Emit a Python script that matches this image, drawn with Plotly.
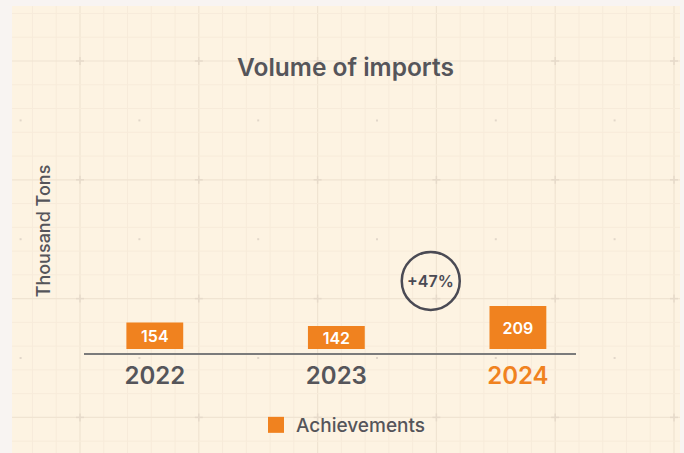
import plotly.graph_objects as go

# ---- data ----
years = ["2022", "2023", "2024"]
imports = [154, 142, 209]
year_labels = ["2022", "2023", "2024"]
highlight_year = "2024"
series_name = "Achievements"
title_text = "Volume of imports"
y_title = "Thousand Tons"

# ---- style ----
W, H = 684, 453
ORANGE = "#F0821F"
DARK = "#55555A"
RING = "#4A4A54"
FONT = "Inter"
PANEL = "#FDF3E2"
OUTER = "#F8F4F2"
MINOR = "#F7EBDA"
MAJOR = "#F0E4D2"
CROSS = "#E6DACA"
DOT = "#E2D7CA"

BASE = 65
Y_MAX = 856


def px(x):
    return x / W


def py(y):
    return 1 - y / H


fig = go.Figure()

fig.add_trace(go.Bar(
    x=years,
    y=[v - BASE for v in imports],
    base=BASE,
    text=[str(v) for v in imports],
    textposition="inside",
    insidetextanchor="middle",
    constraintext="none",
    textangle=0,
    textfont=dict(family=FONT, size=16, color="white", weight=600),
    marker=dict(color=ORANGE, line=dict(width=0)),
    width=0.313,
    showlegend=False,
    hoverinfo="skip",
))

fig.add_trace(go.Scatter(
    x=[None], y=[None], mode="markers",
    marker=dict(symbol="square", size=16, color=ORANGE),
    name=series_name, showlegend=True,
))

shapes = []
# panel
shapes.append(dict(type="rect", xref="paper", yref="paper",
                   x0=px(12), x1=px(680), y0=0, y1=py(6),
                   fillcolor=PANEL, line=dict(width=0), layer="below"))
# grid
step = 118.8 / 5
gx = [80 + step * k for k in range(-2, 26)]
gy = [61 + step * k for k in range(-2, 17)]
for i, x in enumerate(gx):
    major = (i - 2) % 5 == 0
    shapes.append(dict(type="line", xref="paper", yref="paper",
                       x0=px(x), x1=px(x), y0=0, y1=py(6),
                       line=dict(color=MAJOR if major else MINOR, width=1.2 if major else 1),
                       layer="below"))
for i, y in enumerate(gy):
    major = (i - 2) % 5 == 0
    shapes.append(dict(type="line", xref="paper", yref="paper",
                       x0=px(12), x1=px(680), y0=py(y), y1=py(y),
                       line=dict(color=MAJOR if major else MINOR, width=1.2 if major else 1),
                       layer="below"))
mx = [80 + 118.8 * k for k in range(6)]
my = [61 + 118.8 * k for k in range(4)]
for x in mx:
    for y in my:
        shapes.append(dict(type="line", xref="paper", yref="paper",
                           x0=px(x - 4), x1=px(x + 4), y0=py(y), y1=py(y),
                           line=dict(color=CROSS, width=1.5), layer="below"))
        shapes.append(dict(type="line", xref="paper", yref="paper",
                           x0=px(x), x1=px(x), y0=py(y - 4), y1=py(y + 4),
                           line=dict(color=CROSS, width=1.5), layer="below"))
for x in [20.6] + [80 + 118.8 * k + 59.4 for k in range(5)]:
    for y in [61 + 118.8 * k + 59.4 for k in range(3)]:
        shapes.append(dict(type="rect", xref="paper", yref="paper",
                           x0=px(x - 1), x1=px(x + 1), y0=py(y + 1), y1=py(y - 1),
                           fillcolor=DOT, line=dict(width=0), layer="below"))

# baseline
shapes.append(dict(type="line", xref="paper", yref="paper",
                   x0=px(84), x1=px(576), y0=py(354), y1=py(354),
                   line=dict(color="#7B7B7B", width=2)))

# growth ring between 2023 and 2024
growth = round((imports[2] - imports[1]) / imports[1] * 100)
ring_x, ring_y = 1.52, 293
shapes.append(dict(type="circle", xref="x", yref="y",
                   xsizemode="pixel", ysizemode="pixel",
                   xanchor=ring_x, yanchor=ring_y,
                   x0=-29, x1=29, y0=-29, y1=29,
                   line=dict(color=RING, width=2.5)))

ticktext = [f"<span style='color:{ORANGE}'>{t}</span>" if t == highlight_year else t
            for t in year_labels]

fig.update_layout(
    width=W, height=H,
    paper_bgcolor=OUTER,
    plot_bgcolor="rgba(0,0,0,0)",
    margin=dict(l=0, r=0, t=0, b=0, pad=0),
    font=dict(family=FONT, color=DARK),
    title=dict(text=title_text, x=px(345.5), xanchor="center",
               y=py(67), yanchor="middle",
               font=dict(family=FONT, size=24.5, color=DARK, weight=600)),
    shapes=shapes,
    annotations=[dict(text=f"+{growth}%", x=ring_x, y=ring_y, xref="x", yref="y",
                      showarrow=False,
                      font=dict(family=FONT, size=16, color=RING, weight=600))],
    legend=dict(orientation="h", x=px(256), xanchor="left", y=py(425), yanchor="middle",
                bgcolor="rgba(0,0,0,0)",
                font=dict(family=FONT, size=19, color=DARK, weight=500)),
    xaxis=dict(type="category", domain=[px(84), px(576)], range=[-0.39, 2.32],
               showgrid=False, zeroline=False, showline=False, ticks="",
               tickvals=years, ticktext=ticktext, ticklabelstandoff=10,
               tickfont=dict(family=FONT, size=24, color=DARK, weight=600)),
    yaxis=dict(domain=[py(349), py(113)], range=[BASE, Y_MAX],
               showgrid=False, zeroline=False, showline=False, showticklabels=False,
               ticks="",
               title=dict(text=y_title, standoff=27,
                          font=dict(family=FONT, size=18, color=DARK, weight=500))),
    hovermode=False,
)

fig.write_html("out.html",
               config={"displayModeBar": False},
               post_script="document.body.style.margin='0';document.body.style.padding='0';")
